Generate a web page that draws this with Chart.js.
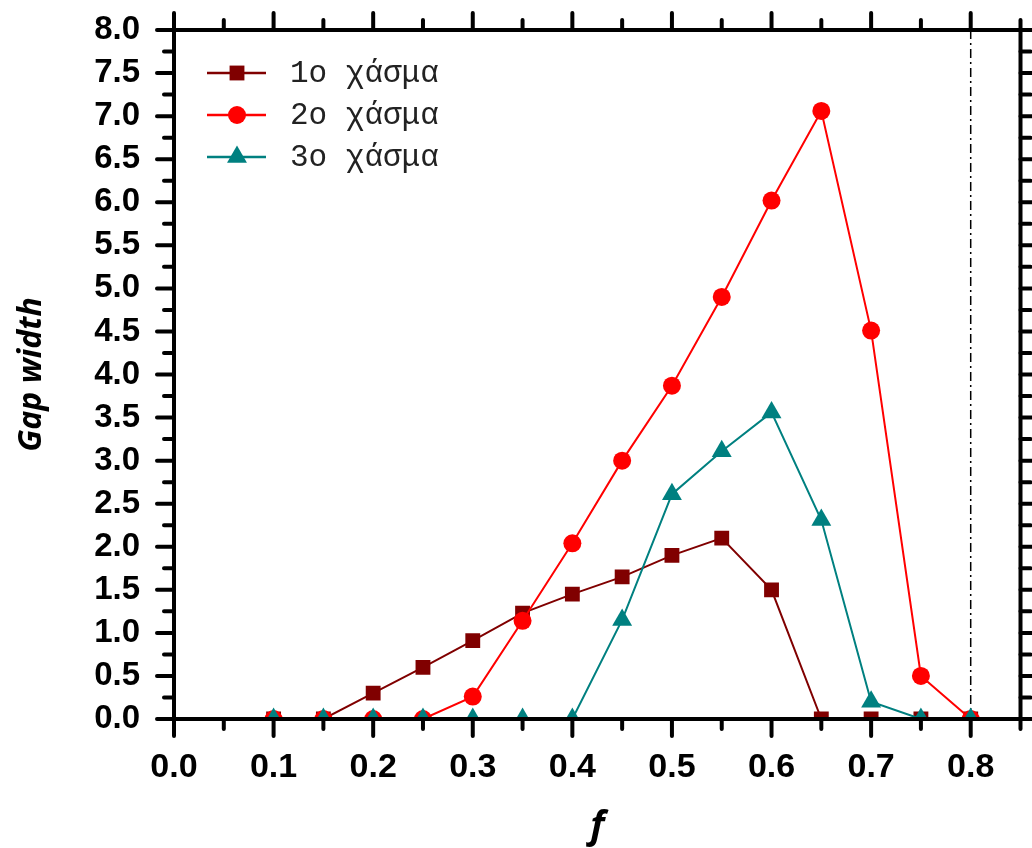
<!DOCTYPE html>
<html>
<head>
<meta charset="utf-8">
<title>Gap width vs f</title>
<script src="https://cdn.jsdelivr.net/npm/chart.js@4.4.1/dist/chart.umd.min.js"></script>
<style>
  html, body { margin: 0; padding: 0; background: #fff; }
  #wrap { width: 1032px; height: 848px; }
</style>
</head>
<body>
<div id="wrap"><canvas id="gapChart" width="1032" height="848"></canvas></div>
<script>
// filling fraction f and the width of each band gap
const fValues = [0.10, 0.15, 0.20, 0.25, 0.30, 0.35, 0.40, 0.45, 0.50, 0.55, 0.60, 0.65, 0.70, 0.75, 0.80];
const gap1 = [0, 0, 0.30, 0.60, 0.91, 1.23, 1.45, 1.65, 1.90, 2.10, 1.50, 0, 0, 0, 0];
const gap2 = [0, 0, 0, 0, 0.26, 1.14, 2.04, 3.00, 3.87, 4.90, 6.02, 7.06, 4.51, 0.50, 0];
const gap3 = [0, 0, 0, 0, 0, 0, 0, 1.15, 2.61, 3.11, 3.56, 2.31, 0.20, 0, 0];
const seriesNames = ['1ο χάσμα', '2ο χάσμα', '3ο χάσμα'];
const cutoffF = 0.8;

const colors = ['#800000', '#ff0000', '#008080'];
const styles = ['rect', 'circle', 'triangle'];
const radii = [10.5, 9, 11.5];

function toPoints(ys) {
  return fValues.map((f, i) => ({ x: f, y: ys[i] }));
}

const datasets = [gap1, gap2, gap3].map((ys, i) => ({
  label: seriesNames[i],
  data: toPoints(ys),
  borderColor: colors[i],
  backgroundColor: colors[i],
  borderWidth: 2,
  pointStyle: styles[i],
  pointRadius: radii[i],
  pointBorderWidth: 0,
  tension: 0,
  order: 3 - i
}));

// box frame with outward major/minor ticks on all four sides
const framePlugin = {
  id: 'frame',
  beforeDatasetsDraw(chart) {
    const { ctx, chartArea: a, scales: { x } } = chart;
    const px = x.getPixelForValue(cutoffF);
    ctx.save();
    ctx.strokeStyle = '#000';
    ctx.lineWidth = 1.5;
    ctx.setLineDash([9, 4, 2, 4]);
    ctx.beginPath();
    ctx.moveTo(px, a.top);
    ctx.lineTo(px, a.bottom);
    ctx.stroke();
    ctx.restore();
  },
  afterDraw(chart) {
    const { ctx, chartArea: a, scales: { x, y } } = chart;
    ctx.save();
    ctx.strokeStyle = '#000';
    ctx.lineCap = 'round';
    ctx.lineWidth = 4;
    ctx.strokeRect(a.left, a.top, a.right - a.left, a.bottom - a.top);

    const major = 17, minor = 10;
    ctx.beginPath();
    for (let i = 0; i <= 17; i++) {
      const px = x.getPixelForValue(i * 0.05);
      const len = i % 2 === 0 ? major : minor;
      ctx.moveTo(px, a.bottom); ctx.lineTo(px, a.bottom + len);
      ctx.moveTo(px, a.top); ctx.lineTo(px, a.top - len);
    }
    for (let i = 0; i <= 32; i++) {
      const py = y.getPixelForValue(i * 0.25);
      const len = i % 2 === 0 ? major : minor;
      ctx.moveTo(a.left, py); ctx.lineTo(a.left - len, py);
      ctx.moveTo(a.right, py); ctx.lineTo(a.right + len, py);
    }
    ctx.stroke();
    ctx.restore();
  }
};

// legend: line through marker, then the label
const legendPlugin = {
  id: 'gapLegend',
  afterDraw(chart) {
    const { ctx } = chart;
    ctx.save();
    chart.data.datasets.forEach((ds, i) => {
      const yy = 73 + i * 42;
      ctx.strokeStyle = ds.borderColor;
      ctx.lineWidth = 2.5;
      ctx.beginPath();
      ctx.moveTo(207, yy);
      ctx.lineTo(266, yy);
      ctx.stroke();
      ctx.fillStyle = ds.backgroundColor;
      Chart.helpers.drawPoint(ctx, { pointStyle: ds.pointStyle, radius: ds.pointRadius, borderWidth: 0 }, 237, yy);
      ctx.fillStyle = '#222';
      ctx.font = '31px "Liberation Mono", monospace';
      ctx.textBaseline = 'middle';
      ctx.fillText(ds.label, 290, yy + 1);
    });
    ctx.restore();
  }
};

new Chart(document.getElementById('gapChart'), {
  type: 'line',
  data: { datasets },
  options: {
    responsive: false,
    animation: false,
    layout: { padding: { left: 0, right: 7, top: 30, bottom: 0 } },
    plugins: { legend: { display: false }, tooltip: { enabled: false } },
    scales: {
      x: {
        type: 'linear',
        min: 0,
        max: 0.85,
        grid: { display: false },
        border: { display: false },
        ticks: {
          stepSize: 0.1,
          includeBounds: false,
          autoSkip: false,
          padding: 20,
          color: '#000',
          font: { family: '"Liberation Sans", Arial, sans-serif', size: 34, weight: 'bold' },
          callback: v => v.toFixed(1)
        },
        title: {
          display: true,
          text: 'f',
          color: '#000',
          font: { family: '"Open Sans", sans-serif', size: 38, weight: 'bold', style: 'italic', lineHeight: 1 },
          padding: { top: 0, bottom: 2 }
        },
        afterFit: s => { s.height = 129; s.paddingLeft = 0; s.paddingRight = 0; }
      },
      y: {
        min: 0,
        max: 8,
        grid: { display: false },
        border: { display: false },
        ticks: {
          stepSize: 0.5,
          autoSkip: false,
          padding: 26,
          color: '#000',
          font: { family: '"Liberation Sans", Arial, sans-serif', size: 33, weight: 'bold' },
          callback: v => v.toFixed(1)
        },
        title: {
          display: true,
          text: 'Gap width',
          color: '#000',
          font: { family: '"Open Sans", sans-serif', size: 32, weight: 'bold', style: 'italic', lineHeight: 1 },
          padding: { top: 16, bottom: 0 }
        },
        afterFit: s => { s.width = 174; s.paddingTop = 0; s.paddingBottom = 0; }
      }
    }
  },
  plugins: [framePlugin, legendPlugin]
});
</script>
</body>
</html>
